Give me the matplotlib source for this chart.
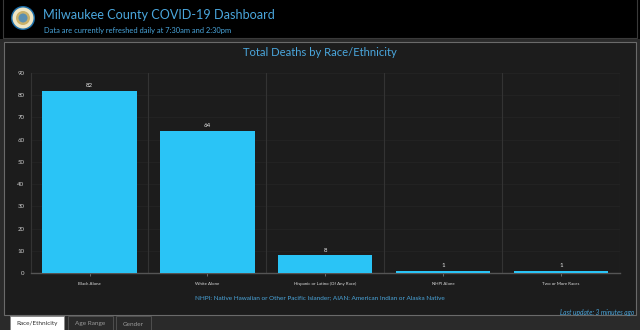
import matplotlib
matplotlib.use("Agg")
import matplotlib.pyplot as plt
from matplotlib.patches import Rectangle, Ellipse

plt.rcParams['font.family'] = ['Lato', 'DejaVu Sans']

# data
races = ["Black Alone", "White Alone", "Hispanic or Latino (Of Any Race)",
         "NHPI Alone", "Two or More Races"]
deaths = [82, 64, 8, 1, 1]
yticks = [0, 10, 20, 30, 40, 50, 60, 70, 80, 90]
tabs = ["Race/Ethnicity", "Age Range", "Gender"]

W, H = 640, 330
bar_col = "#2ac4f6"
blue_txt = "#4aa6dc"
panel_bg = "#1c1c1c"

fig = plt.figure(figsize=(W / 100, H / 100), dpi=100)
fig.patch.set_facecolor("#2a2a2a")

def px(x, y):
    return x / W, 1 - y / H

def rect(x0, y0, x1, y1, **kw):
    fig.patches.append(Rectangle((x0 / W, 1 - y1 / H), (x1 - x0) / W, (y1 - y0) / H,
                                 transform=fig.transFigure, zorder=0, **kw))

# header strip
rect(0, 0, W, 39, facecolor="#000000", edgecolor="none")
rect(3, -2, W - 3, 38, facecolor="none", edgecolor="#3a3a3a", lw=0.8)
# logo (rough)
for r, c in [(12, "#1d6ea8"), (10.5, "#efe6c4"), (7, "#c9b16a"), (4.5, "#5b8fb0")]:
    fig.patches.append(Ellipse((23 / W, 1 - 18 / H), 2 * r / W, 2 * r / H,
                               transform=fig.transFigure, facecolor=c,
                               edgecolor="none", zorder=1))
fig.text(*px(43, 15), "Milwaukee County COVID-19 Dashboard", color=blue_txt,
         fontsize=9.1, va="center", ha="left")
fig.text(*px(44, 30), "Data are currently refreshed daily at 7:30am and 2:30pm",
         color=blue_txt, fontsize=5.4, va="center", ha="left")

# main panel
rect(4, 42, W - 4, 315, facecolor=panel_bg, edgecolor="#6a6a6a", lw=0.8)
fig.text(*px(320, 52), "Total Deaths by Race/Ethnicity", color=blue_txt,
         fontsize=8.1, ha="center", va="center")

ax = fig.add_axes([30.6 / W, (H - 273) / H, (620 - 30.6) / W, 200 / H], zorder=3)
ax.set_facecolor(panel_bg)
x = range(len(races))
bars = ax.bar(x, deaths, width=0.8, color=bar_col, zorder=3)
ax.set_xlim(-0.5, len(races) - 0.5)
ax.set_ylim(0, 90)
ax.set_yticks(yticks)
ax.set_xticks(list(x))
ax.set_xticklabels(races, fontsize=3.2, color="#dddddd")
ax.tick_params(axis="y", labelsize=4.4, colors="#cccccc", length=0, pad=4.5)
ax.tick_params(axis="x", length=2, width=0.6, color="#777777", pad=4.5)
for yv in yticks[1:]:
    ax.axhline(yv, color="#242424", lw=0.6, zorder=1)
for b in [0.5, 1.5, 2.5, 3.5, 4.5]:
    ax.axvline(b, color="#333333", lw=0.8, zorder=1)
for s in ["top", "right"]:
    ax.spines[s].set_visible(False)
ax.spines["left"].set_color("#333333")
ax.spines["bottom"].set_color("#555555")
ax.spines["bottom"].set_linewidth(1)
for rct, v in zip(bars, deaths):
    ax.text(rct.get_x() + rct.get_width() / 2, v + 1.2, str(v), ha="center",
            va="bottom", fontsize=4.4, color="#e8e8e8")

fig.text(*px(320, 298),
         "NHPI: Native Hawaiian or Other Pacific Islander; AIAN: American Indian or Alaska Native",
         color=blue_txt, fontsize=4.6, ha="center", va="center")
fig.text(*px(634, 312), "Last update: 3 minutes ago", color=blue_txt,
         fontsize=4.8, style="italic", ha="right", va="center")

# tabs
tab_x = [(10, 64), (68, 113), (116, 151)]
for i, (name, (a, b)) in enumerate(zip(tabs, tab_x)):
    if i == 0:
        rect(a, 316, b, 332, facecolor="#ffffff", edgecolor="#888888", lw=0.6)
        col = "#333333"
    else:
        rect(a, 316, b, 332, facecolor="#2a2a2a", edgecolor="#555555", lw=0.6)
        col = "#9a9a9a"
    fig.text(*px((a + b) / 2, 324), name, color=col, fontsize=4.6,
             ha="center", va="center")

fig.savefig("out.png", dpi=100, facecolor=fig.get_facecolor())
